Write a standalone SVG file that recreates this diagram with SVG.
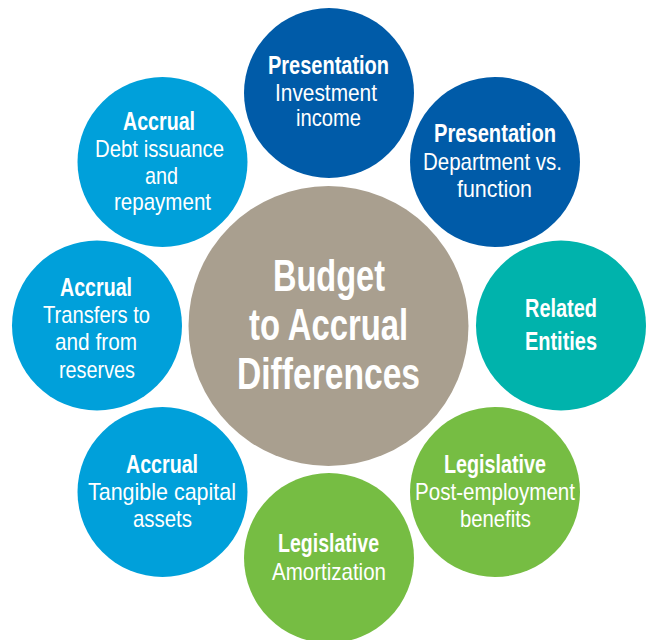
<svg xmlns="http://www.w3.org/2000/svg" width="647" height="640" viewBox="0 0 647 640">
  <style>
    .lbl { font-family: "Liberation Sans", Arial, sans-serif; fill: #ffffff; font-size: 24px; }
    .b { font-weight: bold; font-size: 25px; }
    .hub { font-family: "Liberation Sans", Arial, sans-serif; fill: #ffffff; font-size: 45px; font-weight: bold; }
    .navy { fill: #005BA8; }
    .sky { fill: #00A0DA; }
    .teal { fill: #00B3AC; }
    .green { fill: #76BD43; }
    .tan { fill: #A99F8F; }
  </style>
  <rect width="647" height="640" fill="#ffffff"/>
  <g id="connectors"/>

  <g id="hub">
    <circle class="tan" cx="328.5" cy="326" r="140"/>
    <text class="hub" x="273" y="291" textLength="112" lengthAdjust="spacingAndGlyphs">Budget</text>
    <text class="hub" x="249" y="340" textLength="159" lengthAdjust="spacingAndGlyphs">to Accrual</text>
    <text class="hub" x="237" y="389" textLength="183" lengthAdjust="spacingAndGlyphs">Differences</text>
  </g>

  <g id="presentation-investment">
    <circle class="navy" cx="329" cy="93" r="85"/>
    <text class="lbl b" x="268" y="74" textLength="121" lengthAdjust="spacingAndGlyphs">Presentation</text>
    <text class="lbl" x="275" y="101" textLength="102" lengthAdjust="spacingAndGlyphs">Investment</text>
    <text class="lbl" x="296" y="126" textLength="65" lengthAdjust="spacingAndGlyphs">income</text>
  </g>

  <g id="presentation-department">
    <circle class="navy" cx="495" cy="162" r="85"/>
    <text class="lbl b" x="434" y="142" textLength="122" lengthAdjust="spacingAndGlyphs">Presentation</text>
    <text class="lbl" x="423" y="170" textLength="139" lengthAdjust="spacingAndGlyphs">Department vs.</text>
    <text class="lbl" x="457" y="197" textLength="75" lengthAdjust="spacingAndGlyphs">function</text>
  </g>

  <g id="related-entities">
    <circle class="teal" cx="561" cy="325.5" r="85"/>
    <text class="lbl b" x="525" y="317" textLength="72" lengthAdjust="spacingAndGlyphs">Related</text>
    <text class="lbl b" x="525" y="350" textLength="72" lengthAdjust="spacingAndGlyphs">Entities</text>
  </g>

  <g id="legislative-post-employment">
    <circle class="green" cx="495" cy="492" r="85"/>
    <text class="lbl b" x="444" y="473" textLength="102" lengthAdjust="spacingAndGlyphs">Legislative</text>
    <text class="lbl" x="415" y="500" textLength="160" lengthAdjust="spacingAndGlyphs">Post-employment</text>
    <text class="lbl" x="460" y="527" textLength="71" lengthAdjust="spacingAndGlyphs">benefits</text>
  </g>

  <g id="legislative-amortization">
    <circle class="green" cx="329" cy="558" r="85"/>
    <text class="lbl b" x="278" y="552" textLength="101" lengthAdjust="spacingAndGlyphs">Legislative</text>
    <text class="lbl" x="272" y="580" textLength="114" lengthAdjust="spacingAndGlyphs">Amortization</text>
  </g>

  <g id="accrual-tangible">
    <circle class="sky" cx="162.5" cy="492" r="85"/>
    <text class="lbl b" x="126" y="473" textLength="72" lengthAdjust="spacingAndGlyphs">Accrual</text>
    <text class="lbl" x="88" y="500" textLength="148" lengthAdjust="spacingAndGlyphs">Tangible capital</text>
    <text class="lbl" x="133" y="527" textLength="59" lengthAdjust="spacingAndGlyphs">assets</text>
  </g>

  <g id="accrual-transfers">
    <circle class="sky" cx="97" cy="325.5" r="85"/>
    <text class="lbl b" x="60" y="296" textLength="72" lengthAdjust="spacingAndGlyphs">Accrual</text>
    <text class="lbl" x="43" y="323" textLength="107" lengthAdjust="spacingAndGlyphs">Transfers to</text>
    <text class="lbl" x="55" y="350" textLength="82" lengthAdjust="spacingAndGlyphs">and from</text>
    <text class="lbl" x="59" y="378" textLength="76" lengthAdjust="spacingAndGlyphs">reserves</text>
  </g>

  <g id="accrual-debt">
    <circle class="sky" cx="162.5" cy="162" r="85"/>
    <text class="lbl b" x="123" y="130" textLength="72" lengthAdjust="spacingAndGlyphs">Accrual</text>
    <text class="lbl" x="95" y="157" textLength="129" lengthAdjust="spacingAndGlyphs">Debt issuance</text>
    <text class="lbl" x="145" y="184" textLength="33" lengthAdjust="spacingAndGlyphs">and</text>
    <text class="lbl" x="114" y="210" textLength="97" lengthAdjust="spacingAndGlyphs">repayment</text>
  </g>
</svg>
